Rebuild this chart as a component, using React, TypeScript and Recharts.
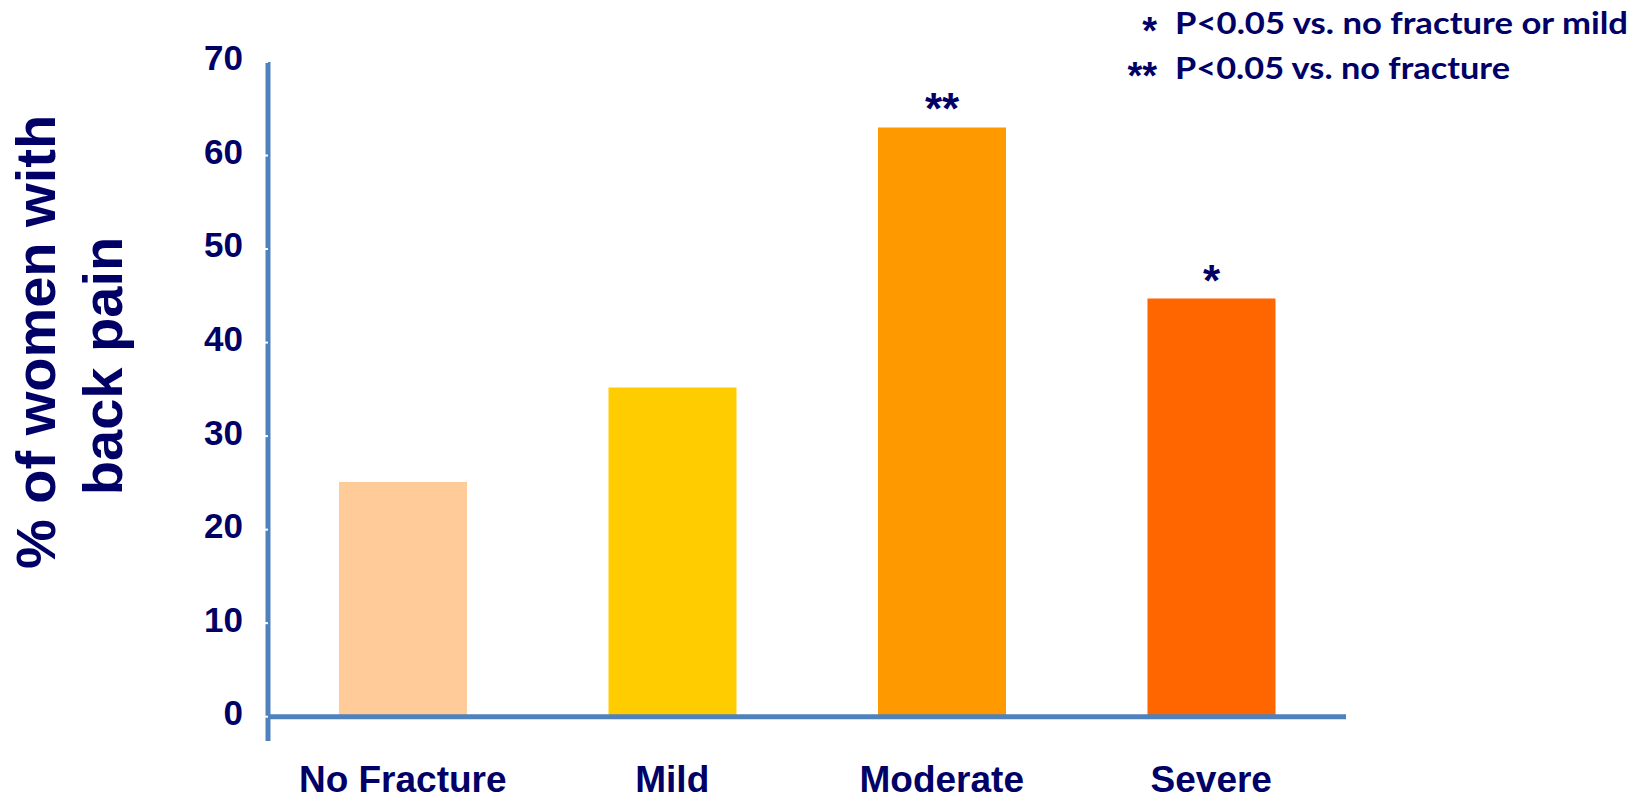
import React from 'react';
import { BarChart, Bar, XAxis, YAxis, Cell, LabelList, ReferenceLine } from 'recharts';

const categories = ['No Fracture', 'Mild', 'Moderate', 'Severe'];
const backPainPct = [25.1, 35.2, 63.0, 44.7];
const significance = ['', '', '**', '*'];
const barColors = ['#FFCC99', '#FFCC00', '#FF9900', '#FF6600'];
const yTicks = [0, 10, 20, 30, 40, 50, 60, 70];
const footnotes = [
  { mark: '*', text: 'P<0.05 vs. no fracture or mild' },
  { mark: '**', text: 'P<0.05 vs. no fracture' },
];

const NAVY = '#000066';
const AXIS_BLUE = '#4F81BD';
const ARIAL = '"Liberation Sans", Arial, sans-serif';

const data = categories.map((category, i) => ({
  category,
  value: backPainPct[i],
  sig: significance[i],
}));

// two-line rotated title to the left of the value axis
const YTitle = (props: any) => {
  const vx = props.viewBox?.x ?? 0;
  const common = {
    fill: NAVY,
    fontFamily: ARIAL,
    fontSize: 56,
    fontWeight: 700,
    textAnchor: 'middle' as const,
  };
  return (
    <g>
      <text {...common} x={vx + 55} y={342} transform={`rotate(-90, ${vx + 55}, 342)`}>
        % of women with
      </text>
      <text {...common} x={vx + 122} y={366} transform={`rotate(-90, ${vx + 122}, 366)`}>
        back pain
      </text>
    </g>
  );
};

const App: React.FC = () => {
  return (
    <div style={{ position: 'absolute', left: 0, top: 0, width: 1648, height: 802, background: '#fff' }}>
      <BarChart
        width={1648}
        height={802}
        data={data}
        margin={{ top: 62, right: 302, bottom: 0, left: 0 }}
      >
        <XAxis
          dataKey="category"
          axisLine={false}
          tickLine={false}
          tickSize={0}
          tickMargin={25}
          height={61}
          interval={0}
          tick={{ fill: NAVY, fontSize: 37, fontWeight: 700, fontFamily: ARIAL }}
        />
        <YAxis
          domain={[-2.6, 70]}
          ticks={yTicks}
          allowDataOverflow
          width={268}
          axisLine={{ stroke: AXIS_BLUE, strokeWidth: 5 }}
          tickLine={{ stroke: '#ffffff', strokeWidth: 2 }}
          tickSize={3}
          tickMargin={22}
          tick={{ fill: NAVY, fontSize: 35, fontWeight: 700, fontFamily: ARIAL, dy: -4 }}
          label={{ content: YTitle }}
        />
        <Bar dataKey="value" barSize={128} isAnimationActive={false}>
          {data.map((d, i) => (
            <Cell key={d.category} fill={barColors[i]} />
          ))}
          <LabelList
            dataKey="sig"
            position="top"
            offset={3}
            fill={NAVY}
            fontSize={44}
            fontWeight={700}
            fontFamily={ARIAL}
          />
        </Bar>
        <ReferenceLine y={0} stroke={AXIS_BLUE} strokeWidth={5} />
      </BarChart>

      <svg
        width={1648}
        height={100}
        style={{ position: 'absolute', left: 0, top: 0, pointerEvents: 'none' }}
      >
        {footnotes.map((f, i) => (
          <g key={f.mark} fill={NAVY} fontWeight={700}>
            <text x={1157} y={44 + i * 45} textAnchor="end" fontFamily={ARIAL} fontSize={38}>
              {f.mark}
            </text>
            <text
              x={1175}
              y={34 + i * 45}
              fontFamily="Lato, sans-serif"
              fontSize={31}
              textLength={i === 0 ? 453 : 335}
              lengthAdjust="spacingAndGlyphs"
            >
              {f.text}
            </text>
          </g>
        ))}
      </svg>
    </div>
  );
};

export default App;
